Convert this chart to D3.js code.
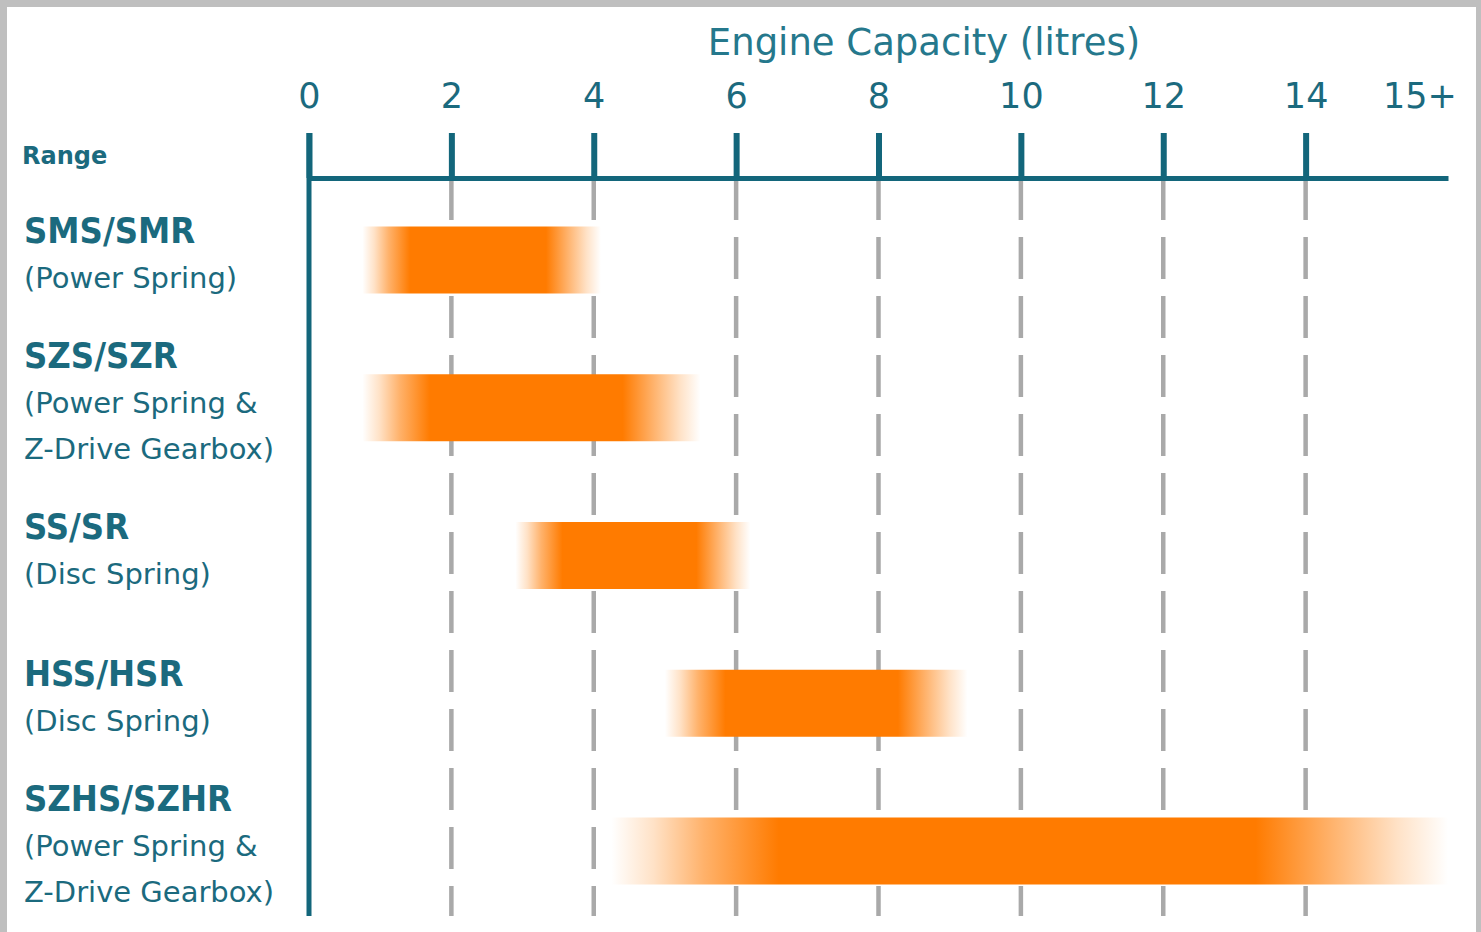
<!DOCTYPE html>
<html>
<head>
<meta charset="utf-8">
<script src="https://cdn.jsdelivr.net/npm/d3@7"></script>
<style>
  body { margin: 0; background: #fff; }
</style>
</head>
<body>
<svg id="chart"></svg>
<script>
// data
const ranges = ["SMS/SMR", "SZS/SZR", "SS/SR", "HSS/HSR", "SZHS/SZHR"];
const springTypes = [
  ["(Power Spring)"],
  ["(Power Spring &", "Z-Drive Gearbox)"],
  ["(Disc Spring)"],
  ["(Disc Spring)"],
  ["(Power Spring &", "Z-Drive Gearbox)"]
];
const minLitres = [0.75, 0.75, 2.9, 5.0, 4.25];
const maxLitres = [4.1, 5.5, 6.2, 9.25, 16];
const tickValues = [0, 2, 4, 6, 8, 10, 12, 14, 15.6];
const tickLabels = ["0", "2", "4", "6", "8", "10", "12", "14", "15+"];
const gridValues = [2, 4, 6, 8, 10, 12, 14];

const W = 1481, H = 932;
const teal = "#13667b";
const textTeal = "#1b6a7e";
const orange = "#ff7b00";
const axisY = 178;
const lightFont = "'DejaVu Sans', sans-serif";
const boldFont = "'DejaVu Sans Condensed', 'DejaVu Sans', sans-serif";

const svg = d3.select("#chart").attr("width", W).attr("height", H);

// frame
svg.append("rect").attr("width", W).attr("height", H).attr("fill", "#bfbfbf");
svg.append("rect").attr("x", 7).attr("y", 7).attr("width", W - 12).attr("height", H - 7).attr("fill", "#fff");

const x = d3.scaleLinear().domain([0, 16]).range([309, 1448]);
const y = d3.scalePoint().domain(ranges).range([260, 851]);
const barH = 67;

// bars fade to white at both ends (opaque, so they hide the grid)
const mix = d3.interpolateRgb("#ffffff", orange);
const grad = svg.append("defs").append("linearGradient")
  .attr("id", "fade")
  .attr("x1", 0).attr("x2", 1).attr("y1", 0).attr("y2", 0);
[[0, 0], [0.05, 0.22], [0.11, 0.58], [0.2, 1], [0.77, 1], [0.86, 0.58], [0.94, 0.22], [1, 0]]
  .forEach(([o, a]) => grad.append("stop").attr("offset", o).attr("stop-color", mix(a)));

// dashed grid
svg.append("g").selectAll("line")
  .data(gridValues)
  .enter()
  .append("line")
  .attr("x1", d => x(d)).attr("x2", d => x(d))
  .attr("y1", axisY).attr("y2", 916)
  .attr("stroke", "#a9a9a9")
  .attr("stroke-width", 4.5)
  .attr("stroke-dasharray", "42,17");

// bars
svg.append("g").selectAll("rect")
  .data(ranges)
  .enter()
  .append("rect")
  .attr("x", (d, i) => x(minLitres[i]))
  .attr("y", d => y(d) - barH / 2)
  .attr("width", (d, i) => x(maxLitres[i]) - x(minLitres[i]))
  .attr("height", barH)
  .attr("fill", "url(#fade)");

// top axis
const axis = svg.append("g")
  .attr("transform", `translate(0,${axisY})`)
  .call(d3.axisTop(x)
    .tickValues(tickValues)
    .tickFormat((d, i) => tickLabels[i])
    .tickSize(45)
    .tickSizeOuter(0)
    .tickPadding(25));

axis.select(".domain").attr("stroke", teal).attr("stroke-width", 5);
axis.selectAll(".tick line").attr("stroke", teal).attr("stroke-width", 6)
  .filter(d => d > 14).remove();
axis.selectAll(".tick text")
  .attr("fill", textTeal)
  .style("font-family", lightFont)
  .style("font-size", "35px");

// vertical axis
svg.append("line")
  .attr("x1", x(0)).attr("x2", x(0))
  .attr("y1", 133).attr("y2", 916)
  .attr("stroke", teal).attr("stroke-width", 5);

// title
svg.append("text")
  .attr("x", 924).attr("y", 55)
  .attr("text-anchor", "middle")
  .attr("fill", "#25788c")
  .style("font-family", lightFont)
  .style("font-size", "37px")
  .text("Engine Capacity (litres)");

svg.append("text")
  .attr("x", 22).attr("y", 164)
  .attr("fill", textTeal)
  .style("font-family", lightFont)
  .style("font-weight", "bold")
  .style("font-size", "24px")
  .text("Range");

// row labels
const labels = svg.append("g").selectAll("g")
  .data(ranges)
  .enter()
  .append("g")
  .attr("transform", (d, i) => `translate(24,${y(d) - 17 - (springTypes[i].length - 1) * 23})`);

labels.append("text")
  .attr("fill", textTeal)
  .style("font-family", boldFont)
  .style("font-stretch", "condensed")
  .style("font-weight", "bold")
  .style("font-size", "36px")
  .text(d => d);

labels.each(function (d, i) {
  d3.select(this).selectAll(".sub")
    .data(springTypes[i])
    .enter()
    .append("text")
    .attr("class", "sub")
    .attr("x", 0)
    .attr("y", (t, j) => 45 + j * 46)
    .attr("fill", textTeal)
    .style("font-family", lightFont)
    .style("font-size", "29px")
    .text(t => t);
});
</script>
</body>
</html>
